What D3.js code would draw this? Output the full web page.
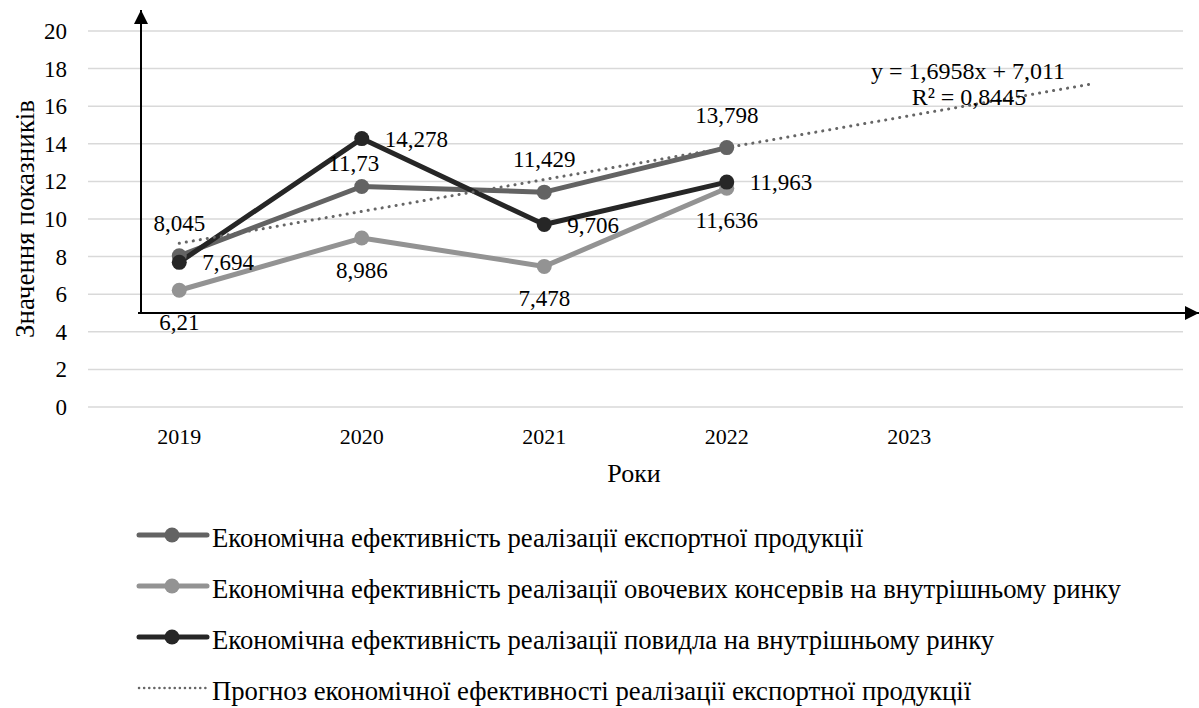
<!DOCTYPE html>
<html>
<head>
<meta charset="utf-8">
<script src="https://cdn.jsdelivr.net/npm/d3@7"></script>
<style>
  body { margin: 0; background: #fff; }
</style>
</head>
<body>
<div id="chart"></div>
<script>
(function () {
  var width = 1199, height = 708;
  var FONT = "Liberation Serif, DejaVu Serif, serif";

  // data
  var years = ["2019", "2020", "2021", "2022", "2023", ""];
  var exportEff = [8.045, 11.73, 11.429, 13.798];
  var vegEff = [6.21, 8.986, 7.478, 11.636];
  var jamEff = [7.694, 14.278, 9.706, 11.963];
  var yTicks = [0, 2, 4, 6, 8, 10, 12, 14, 16, 18, 20];
  var trendSlope = 1.6958, trendIntercept = 7.011, trendR2 = "0,8445";
  var legendLabels = [
    "Економічна ефективність реалізації експортної продукції",
    "Економічна ефективність реалізації овочевих консервів на внутрішньому ринку",
    "Економічна ефективність реалізації повидла на внутрішньому ринку",
    "Прогноз економічної ефективності реалізації експортної продукції"
  ];

  var series = [
    {name: legendLabels[0], values: exportEff, color: "#636363", labelPos: "above"},
    {name: legendLabels[1], values: vegEff, color: "#939393", labelPos: "below"},
    {name: legendLabels[2], values: jamEff, color: "#262626", labelPos: "right"}
  ];

  var svg = d3.select("#chart").append("svg")
    .attr("width", width)
    .attr("height", height)
    .attr("font-family", FONT)
    .attr("font-size", 23);

  var x = d3.scaleBand().domain(years).range([88, 1183]);
  var y = d3.scaleLinear().domain([0, 20]).range([407, 31]);
  var cx = function (i) { return x(years[i]) + x.bandwidth() / 2; };

  // grid
  svg.append("g").selectAll("line").data(yTicks).enter().append("line")
    .attr("x1", 88).attr("x2", 1183)
    .attr("y1", function (d) { return y(d); })
    .attr("y2", function (d) { return y(d); })
    .attr("stroke", "#d9d9d9").attr("stroke-width", 1.5);

  // y tick labels
  var yAxis = d3.axisLeft(y).tickValues(yTicks).tickSize(0).tickPadding(0);
  var gy = svg.append("g").attr("transform", "translate(67,0)").call(yAxis);
  gy.attr("font-family", FONT).attr("font-size", 23);
  gy.select(".domain").remove();
  gy.selectAll("text").attr("dy", "0.33em").attr("fill", "#000");

  // x tick labels
  svg.append("g").selectAll("text").data(years.slice(0, 5)).enter().append("text")
    .attr("x", function (d, i) { return cx(i); })
    .attr("y", 444)
    .attr("text-anchor", "middle")
    .attr("font-size", 22)
    .text(function (d) { return d; });

  // axis titles
  svg.append("text")
    .attr("x", 634).attr("y", 482)
    .attr("text-anchor", "middle")
    .attr("font-size", 26)
    .text("Роки");
  svg.append("text")
    .attr("transform", "translate(34,219) rotate(-90)")
    .attr("text-anchor", "middle")
    .attr("font-size", 27)
    .text("Значення показників");

  // arrows
  var defs = svg.append("defs");
  defs.append("marker").attr("id", "arr")
    .attr("viewBox", "0 0 10 10").attr("refX", 10).attr("refY", 5)
    .attr("markerWidth", 7).attr("markerHeight", 7).attr("markerUnits", "strokeWidth")
    .attr("orient", "auto")
    .append("path").attr("d", "M0,0 L10,5 L0,10 Z").attr("fill", "#000");
  svg.append("line")
    .attr("x1", 141).attr("x2", 141).attr("y1", y(5)).attr("y2", 10)
    .attr("stroke", "#000").attr("stroke-width", 2).attr("marker-end", "url(#arr)");
  svg.append("line")
    .attr("x1", 138).attr("x2", 1199).attr("y1", y(5)).attr("y2", y(5))
    .attr("stroke", "#000").attr("stroke-width", 2).attr("marker-end", "url(#arr)");

  // trend line (x = 1..6)
  var trendX = [0, 5];
  var trend = d3.line()
    .x(function (i) { return cx(i); })
    .y(function (i) { return y(trendSlope * (i + 1) + trendIntercept); });

  var line = d3.line()
    .x(function (d, i) { return cx(i); })
    .y(function (d) { return y(d); });

  series.forEach(function (s) {
    svg.append("path").datum(s.values)
      .attr("d", line).attr("fill", "none")
      .attr("stroke", s.color).attr("stroke-width", 5)
      .attr("stroke-linejoin", "round");
  });

  svg.append("path").datum(trendX)
    .attr("d", trend).attr("fill", "none")
    .attr("stroke", "#666").attr("stroke-width", 3)
    .attr("stroke-dasharray", "0.1 7").attr("stroke-linecap", "round");

  series.forEach(function (s) {
    svg.append("g").selectAll("circle").data(s.values).enter().append("circle")
      .attr("cx", function (d, i) { return cx(i); })
      .attr("cy", function (d) { return y(d); })
      .attr("r", 7.5).attr("fill", s.color);
  });

  // data labels
  var fmt = function (v) { return String(v).replace(".", ","); };
  series.forEach(function (s) {
    svg.append("g").selectAll("text").data(s.values).enter().append("text")
      .attr("x", function (d, i) {
        if (s.labelPos === "right") return cx(i) + 23;
        if (s.labelPos === "above" && i === 1) return cx(i) - 8;
        return cx(i);
      })
      .attr("y", function (d, i) {
        if (s.labelPos === "above") return y(d) + (i === 1 ? -15 : -25);
        if (s.labelPos === "below") return y(d) + 40;
        return y(d) + 8;
      })
      .attr("text-anchor", s.labelPos === "right" ? "start" : "middle")
      .text(fmt);
  });

  // trend equation
  svg.append("text").attr("x", 968).attr("y", 79).attr("text-anchor", "middle")
    .attr("font-size", 24)
    .text("y = " + fmt(trendSlope) + "x + " + fmt(trendIntercept));
  svg.append("text").attr("x", 969).attr("y", 105).attr("text-anchor", "middle")
    .attr("font-size", 24)
    .text("R² = " + trendR2);

  // legend
  var legY = [535, 586, 637, 688];
  var leg = svg.append("g").selectAll("g").data(legendLabels).enter().append("g")
    .attr("transform", function (d, i) { return "translate(0," + legY[i] + ")"; });
  leg.each(function (d, i) {
    var g = d3.select(this);
    if (i < 3) {
      g.append("line").attr("x1", 139).attr("x2", 207).attr("y1", 0).attr("y2", 0)
        .attr("stroke", series[i].color).attr("stroke-width", 5).attr("stroke-linecap", "round");
      g.append("circle").attr("cx", 172).attr("cy", 0).attr("r", 7.5).attr("fill", series[i].color);
    } else {
      g.append("line").attr("x1", 139).attr("x2", 207).attr("y1", 0).attr("y2", 0)
        .attr("stroke", "#666").attr("stroke-width", 2.5)
        .attr("stroke-dasharray", "0.1 5").attr("stroke-linecap", "round");
    }
    g.append("text").attr("x", 212).attr("y", 12).attr("font-size", 26.7).text(d);
  });
}());
</script>
</body>
</html>
